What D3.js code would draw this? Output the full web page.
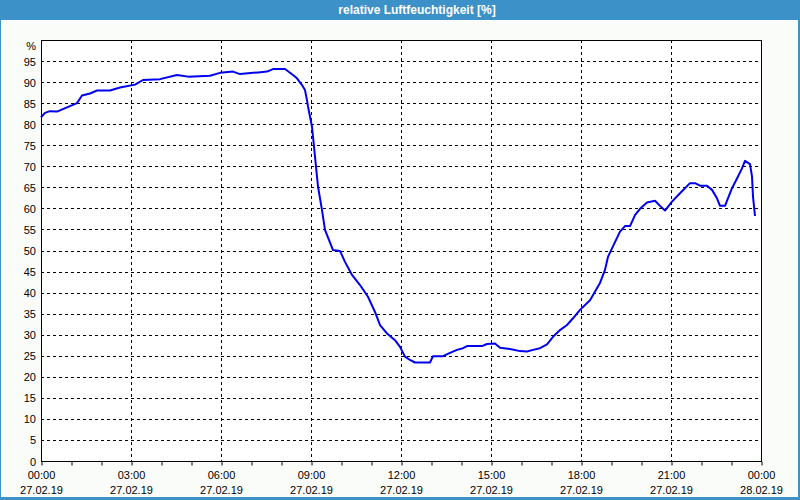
<!DOCTYPE html>
<html>
<head>
<meta charset="utf-8">
<title>relative Luftfeuchtigkeit</title>
<script src="https://cdn.jsdelivr.net/npm/d3@7"></script>
<style>
  body { margin: 0; background: #fafcfa; }
  text { font-family: "Liberation Sans", Arial, sans-serif; font-size: 11px; fill: #000; }
</style>
</head>
<body>
<script>
// chart data: minutes since 27.02.19 00:00 and humidity in %
var minutes = [0, 8, 18, 32, 52, 64, 72, 82, 98, 112, 138, 158, 188, 204, 238, 272, 294, 338, 358, 384,
  398, 434, 452, 464, 488, 504, 512, 522, 528, 532, 534, 542, 546, 550, 554, 562, 568, 584, 598, 608,
  622, 638, 654, 668, 678, 692, 708, 718, 728, 738, 748, 778, 784, 804, 818, 832, 844, 852, 882, 892,
  908, 918, 938, 958, 972, 984, 998, 1012, 1024, 1038, 1052, 1064, 1078, 1098, 1118, 1128, 1134, 1142, 1158, 1168,
  1178, 1188, 1198, 1212, 1228, 1238, 1248, 1262, 1278, 1298, 1308, 1318, 1332, 1342, 1352, 1358, 1368, 1382, 1392, 1402,
  1408, 1418, 1422, 1424, 1428];
var humidity = [81.6, 82.7, 83.1, 83.0, 84.0, 84.6, 85.0, 86.8, 87.3, 88.0, 88.0, 88.7, 89.4, 90.5, 90.7, 91.7, 91.3, 91.5, 92.2, 92.5,
  91.9, 92.3, 92.5, 93.1, 93.1, 91.7, 90.9, 89.3, 88.1, 85.7, 84.2, 79.4, 74.7, 69.9, 65.2, 59.6, 54.9, 50.1, 49.9, 47.3,
  44.2, 41.8, 39.0, 35.4, 32.3, 30.3, 28.7, 27.1, 24.8, 24.0, 23.4, 23.4, 24.9, 24.9, 25.7, 26.4, 26.8, 27.3, 27.3, 27.8,
  27.9, 26.9, 26.6, 26.1, 26.0, 26.4, 26.8, 27.7, 29.5, 31.1, 32.3, 33.9, 35.9, 38.2, 42.3, 45.4, 48.5, 50.5, 54.5, 55.8,
  55.8, 58.4, 59.9, 61.4, 61.8, 60.6, 59.5, 61.6, 63.6, 66.0, 66.0, 65.4, 65.4, 64.4, 62.4, 60.6, 60.6, 64.8, 67.1, 69.5,
  71.3, 70.5, 67.6, 62.8, 58.2];

// axis labels
var timeTicks = [0, 180, 360, 540, 720, 900, 1080, 1260, 1440];
var timeLabels = ["00:00", "03:00", "06:00", "09:00", "12:00", "15:00", "18:00", "21:00", "00:00"];
var dateLabels = ["27.02.19", "27.02.19", "27.02.19", "27.02.19", "27.02.19", "27.02.19", "27.02.19", "27.02.19", "28.02.19"];
var hourTicks = d3.range(0, 1441, 60);
var yTicks = d3.range(0, 100, 5);
var title = "relative Luftfeuchtigkeit [%]";

var w = 800, h = 500;
var m = {left: 41, right: 761, top: 40, bottom: 461};
var frame = "#3c91c8";

var svg = d3.select("body").append("svg")
  .attr("width", w)
  .attr("height", h);

// window frame and title bar
svg.append("rect").attr("x", 0).attr("y", 0).attr("width", w).attr("height", h).attr("fill", frame);
svg.append("rect").attr("x", 1).attr("y", 20).attr("width", w - 3).attr("height", h - 23).attr("fill", "#fafcfa");
svg.append("text")
  .attr("x", 417).attr("y", 14)
  .attr("text-anchor", "middle")
  .style("fill", "#fff")
  .style("font-size", "12px")
  .style("font-weight", "bold")
  .text(title);

var x = d3.scaleLinear().domain([0, 1440]).range([m.left, m.right]);
var y = d3.scaleLinear().domain([0, 100]).range([m.bottom, m.top]);

// plot area
svg.append("rect")
  .attr("x", m.left).attr("y", m.top)
  .attr("width", m.right - m.left).attr("height", m.bottom - m.top)
  .attr("fill", "#fff");

// dashed grid
svg.append("g").selectAll("line")
  .data(yTicks.filter(function(d) { return d > 0; }))
  .enter().append("line")
  .attr("x1", m.left).attr("x2", m.right)
  .attr("y1", function(d) { return Math.round(y(d)) + 0.5; })
  .attr("y2", function(d) { return Math.round(y(d)) + 0.5; })
  .attr("stroke", "#000")
  .attr("stroke-dasharray", "3,3");

svg.append("g").selectAll("line")
  .data(timeTicks.filter(function(d) { return d > 0 && d < 1440; }))
  .enter().append("line")
  .attr("x1", function(d) { return x(d) + 0.5; })
  .attr("x2", function(d) { return x(d) + 0.5; })
  .attr("y1", m.top).attr("y2", m.bottom)
  .attr("stroke", "#000")
  .attr("stroke-dasharray", "3,3");

// humidity line
var line = d3.line()
  .x(function(d, i) { return x(minutes[i]); })
  .y(function(d) { return y(d); });

svg.append("path")
  .datum(humidity)
  .attr("d", line)
  .attr("fill", "none")
  .attr("stroke", "#0000ee")
  .attr("stroke-width", 2)
  .attr("stroke-linejoin", "round");

// frame of plot
svg.append("rect")
  .attr("x", m.left + 0.5).attr("y", m.top + 0.5)
  .attr("width", m.right - m.left).attr("height", m.bottom - m.top)
  .attr("fill", "none")
  .attr("stroke", "#000");

// y axis labels
svg.append("g").selectAll("text")
  .data(yTicks)
  .enter().append("text")
  .attr("x", 36)
  .attr("y", function(d) { return y(d) + 4.5; })
  .attr("text-anchor", "end")
  .text(function(d) { return d; });

svg.append("text")
  .attr("x", 36).attr("y", 50)
  .attr("text-anchor", "end")
  .text("%");

// x axis: hourly ticks, labels every 3h
svg.append("g")
  .attr("transform", "translate(0," + (m.bottom + 0.5) + ")")
  .call(d3.axisBottom(x).tickValues(hourTicks).tickSize(4).tickFormat(""))
  .call(function(g) { g.select(".domain").remove(); })
  .selectAll("line")
  .attr("transform", "translate(0.5,0)");

var xl = svg.append("g").selectAll("g")
  .data(timeTicks)
  .enter().append("g")
  .attr("transform", function(d) { return "translate(" + (x(d) + 0.5) + ",0)"; });

xl.append("text")
  .attr("y", 479)
  .attr("text-anchor", "middle")
  .text(function(d, i) { return timeLabels[i]; });

xl.append("text")
  .attr("y", 494)
  .attr("text-anchor", "middle")
  .text(function(d, i) { return dateLabels[i]; });
</script>
</body>
</html>
